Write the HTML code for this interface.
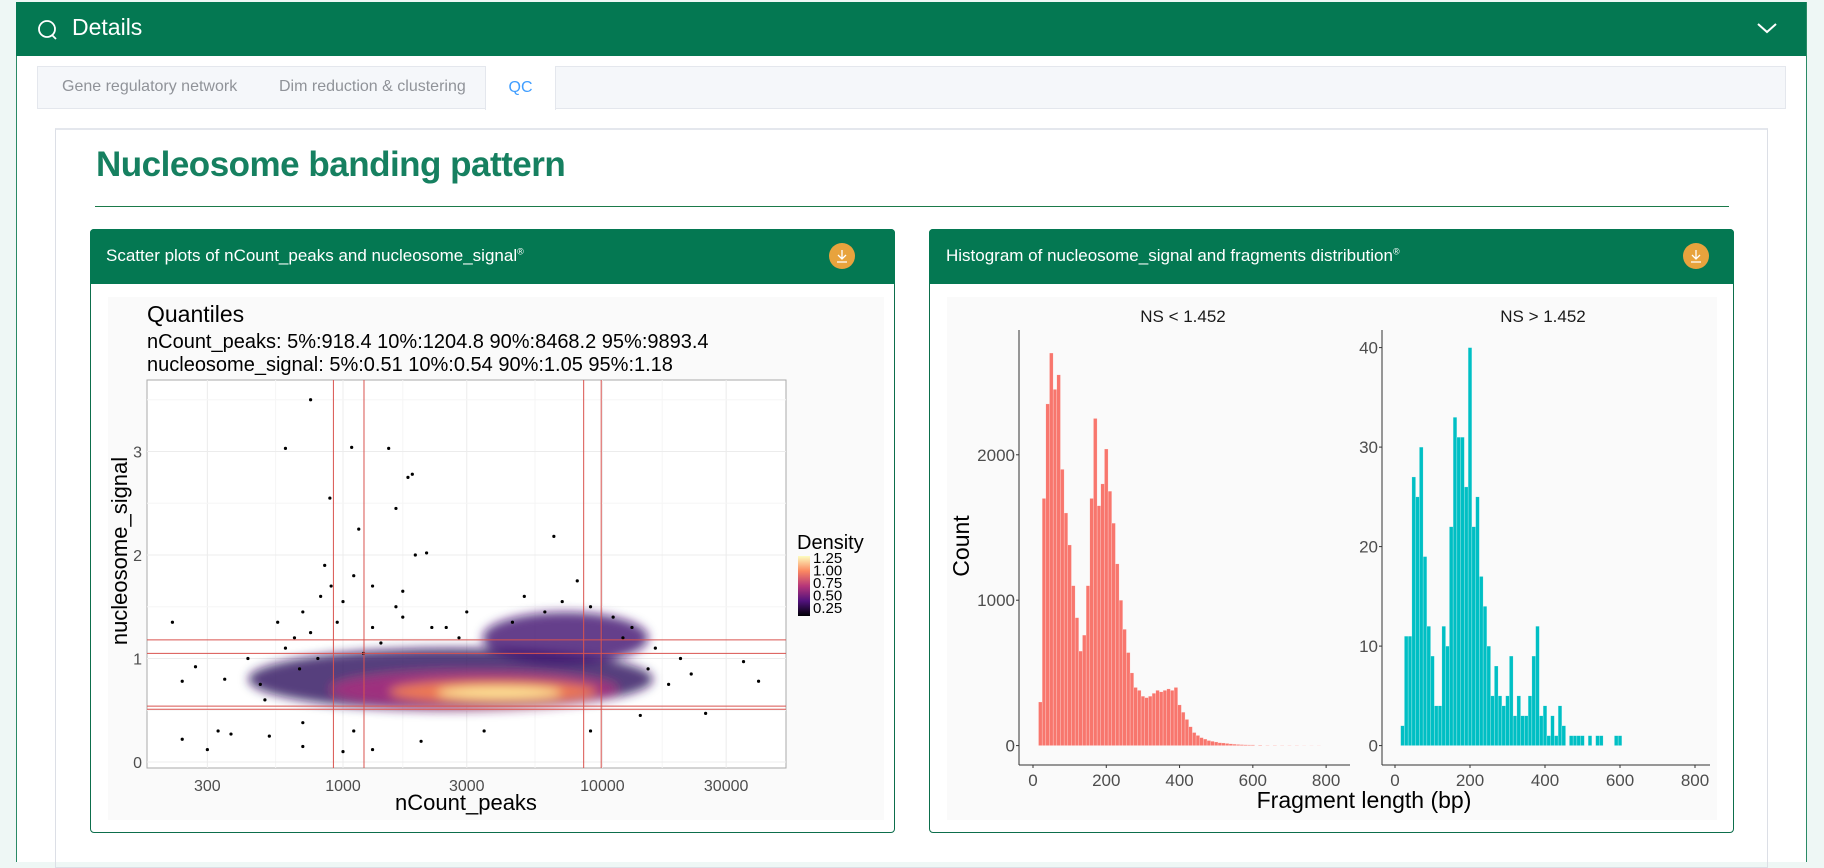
<!DOCTYPE html>
<html><head><meta charset="utf-8">
<style>
body{margin:0;width:1824px;height:854px;overflow:hidden;background:#eef7f5;font-family:"Liberation Sans",sans-serif;position:relative}
.abs{position:absolute}
</style></head>
<body>
<div class="abs" style="left:16px;top:2px;width:1789px;height:860px;background:#fff;border-left:1px solid #2a8a66;border-right:1px solid #2a8a66"></div>
<div class="abs" style="left:16px;top:2px;width:1790px;height:54px;background:#047852"></div>
<svg class="abs" style="left:37px;top:19px" width="22" height="22"><circle cx="10" cy="10" r="8" fill="none" stroke="#fff" stroke-width="1.8"/><line x1="15" y1="16" x2="19" y2="20" stroke="#fff" stroke-width="1.8"/></svg>
<div class="abs" style="left:72px;top:14px;font-size:23px;color:#fff">Details</div>
<svg class="abs" style="left:1756px;top:21px" width="22" height="14"><polyline points="2,3 11,11 20,3" fill="none" stroke="#fff" stroke-width="2"/></svg>
<div class="abs" style="left:37px;top:66px;width:1749px;height:43px;background:#f5f7fa;border:1px solid #e4e7ed;box-sizing:border-box"></div>
<div class="abs" style="left:62px;top:78px;font-size:16px;color:#909399">Gene regulatory network</div>
<div class="abs" style="left:279px;top:78px;font-size:16px;color:#909399">Dim reduction &amp; clustering</div>
<div class="abs" style="left:485px;top:66px;width:71px;height:44px;background:#fff;border-left:1px solid #e4e7ed;border-right:1px solid #e4e7ed;box-sizing:border-box;text-align:center;line-height:44px;font-size:16px;color:#409eff">QC</div>
<div class="abs" style="left:55px;top:128px;width:1713px;height:740px;border:1px solid #dcdfe6;border-top:2px solid #e4e7ed;box-sizing:border-box"></div>
<div class="abs" style="left:96px;top:145px;font-size:35px;font-weight:bold;color:#168060;letter-spacing:-0.5px">Nucleosome banding pattern</div>
<div class="abs" style="left:95px;top:206px;width:1634px;height:1px;background:#1b7a4a"></div>

<div class="abs" style="left:90px;top:229px;width:805px;height:604px;border:1px solid #0d6e4c;border-radius:4px;box-sizing:border-box"></div>
<div class="abs" style="left:108px;top:297px;width:776px;height:523px;background:#fafafa"></div>
<div class="abs" style="left:90px;top:229px;width:805px;height:55px;background:#047852;border-radius:4px 4px 0 0"></div>
<div class="abs" style="left:106px;top:246px;font-size:17px;color:#fff">Scatter plots of nCount_peaks and nucleosome_signal<sup style="font-size:9px">®</sup></div>
<svg class="abs" style="left:829px;top:243px" width="26" height="26"><circle cx="13" cy="13" r="13" fill="#e8a33d"/><path d="M13 7v9M9 12l4 4 4-4M8 19h10" stroke="#fff" stroke-width="1.3" fill="none"/></svg>

<div class="abs" style="left:929px;top:229px;width:805px;height:604px;border:1px solid #0d6e4c;border-radius:4px;box-sizing:border-box"></div>
<div class="abs" style="left:947px;top:297px;width:770px;height:523px;background:#fafafa"></div>
<div class="abs" style="left:929px;top:229px;width:805px;height:55px;background:#047852;border-radius:4px 4px 0 0"></div>
<div class="abs" style="left:946px;top:246px;font-size:17px;color:#fff">Histogram of nucleosome_signal and fragments distribution<sup style="font-size:9px">®</sup></div>
<svg class="abs" style="left:1683px;top:243px" width="26" height="26"><circle cx="13" cy="13" r="13" fill="#e8a33d"/><path d="M13 7v9M9 12l4 4 4-4M8 19h10" stroke="#fff" stroke-width="1.3" fill="none"/></svg>

<svg id="chart" class="abs" style="left:0;top:0" width="1824" height="854" font-family="Liberation Sans, sans-serif">
<defs>
<filter id="blur" x="-50%" y="-50%" width="200%" height="200%"><feGaussianBlur stdDeviation="5"/></filter>
<linearGradient id="dens" x1="0" y1="1" x2="0" y2="0"><stop offset="0" stop-color="#000004"/><stop offset="0.25" stop-color="#51127c"/><stop offset="0.5" stop-color="#b63679"/><stop offset="0.75" stop-color="#fb8861"/><stop offset="1" stop-color="#fcfdbf"/></linearGradient>
<clipPath id="sclip"><rect x="147" y="380" width="639" height="388"/></clipPath>
</defs>
</svg>
<script>
// ---- scatter data ----
const xTicks=[300,1000,3000,10000,30000];
const yTicks=[0,1,2,3];
const quantX=[918.4,1204.8,8468.2,9893.4];
const quantY=[0.51,0.54,1.05,1.18];
const ptX=[750,600,1080,1500,1850,1780,890,1600,1150,6500,1900,2100,1700,850,1100,900,220,270,240,480,560,430,350,330,240,300,370,520,700,1000,1300,2000,25000,35000,40000,20000,18000,700,1300,3000,5000,8000,9000,650,800,1200,1600,2500,12000,15000,700,1100,3500,9000,14000,1000,1300,600,750,950,1400,1700,2200,2800,4500,6000,7000,11000,13000,16000,22000,500,680,820];
const ptY=[3.5,3.03,3.04,3.03,2.78,2.75,2.55,2.45,2.25,2.18,2.0,2.02,1.65,1.9,1.8,1.7,1.35,0.92,0.78,0.75,1.35,1.0,0.8,0.3,0.22,0.12,0.27,0.25,0.15,0.1,0.12,0.2,0.47,0.97,0.78,1.0,0.75,1.45,1.3,1.45,1.6,1.75,1.5,1.2,1.0,1.05,1.5,1.3,1.2,0.9,0.38,0.3,0.3,0.3,0.45,1.55,1.7,1.1,1.25,1.35,1.15,1.4,1.3,1.2,1.35,1.45,1.55,1.4,1.3,1.1,0.85,0.6,0.9,1.6];
// density cloud layers (center in data, extent in decades / signal units)
const cloudX=[2600,7200,3200,3800,4000];
const cloudY=[0.8,1.2,0.7,0.68,0.67];
const cloudRX=[0.78,0.32,0.55,0.4,0.24];
const cloudRY=[0.3,0.25,0.17,0.11,0.06];
const cloudColor=["#2a0a5c","#3d0f6e","#a3307e","#f17d52","#fde89a"];
const legendLabels=["1.25","1.00","0.75","0.50","0.25"];
// ---- histogram data ----
const binL=[20,30,40,50,60,70,80,90,100,110,120,130,140,150,160,170,180,190,200,210,220,230,240,250,260,270,280,290,300,310,320,330,340,350,360,370,380,390,400,410,420,430,440,450,460,470,480,490,500,510,520,530,540,550,560,570,580,590,600,620,640,660,680,700,720,740,760,780];
const cntL=[300,1700,2350,2700,2450,2550,1900,1600,1380,1100,880,650,760,1100,1700,2250,1650,1800,2040,1750,1530,1250,1000,800,640,500,400,380,340,330,340,360,380,370,380,390,380,400,280,230,180,130,90,70,55,45,35,30,25,20,18,15,12,10,8,7,6,5,5,4,3,3,2,2,2,1,1,1];
const binR=[20,30,40,50,60,70,80,90,100,110,120,130,140,150,160,170,180,190,200,210,220,230,240,250,260,270,280,290,300,310,320,330,340,350,360,370,380,390,400,410,420,430,440,450,470,480,490,500,520,540,550,590,600];
const cntR=[2,11,11,27,25,30,19,12,9,4,4,12,10,22,33,31,31,26,40,22,25,17,14,10,5,8,5,4,5,9,3,5,3,3,5,9,12,3,4,1,3,1,4,2,1,1,1,1,1,1,1,1,1];
const yTicksL=[0,1000,2000];
const yTicksR=[0,10,20,30,40];
const xTicksH=[0,200,400,600,800];

const NS="http://www.w3.org/2000/svg";
const svg=document.getElementById('chart');
function mk(tag,attrs,parent){const e=document.createElementNS(NS,tag);for(const k in attrs)e.setAttribute(k,attrs[k]);(parent||svg).appendChild(e);return e;}
function txt(s,attrs,parent){const e=mk('text',attrs,parent);e.textContent=s;return e;}

const sx=v=>343+(Math.log10(v)-3)*259.4;
const sy=v=>762-v*103.5;
const scat=mk('g',{});


txt('Quantiles',{x:147,y:322,'font-size':23,fill:'#000'},scat);
txt('nCount_peaks: 5%:918.4 10%:1204.8 90%:8468.2 95%:9893.4',{x:147,y:348,'font-size':20,fill:'#000'},scat);
txt('nucleosome_signal: 5%:0.51 10%:0.54 90%:1.05 95%:1.18',{x:147,y:371,'font-size':20,fill:'#000'},scat);
mk('rect',{x:147,y:380,width:639,height:388,fill:'#fff',stroke:'#aaa'},scat);
const grid=mk('g',{'clip-path':'url(#sclip)'},scat);
[300,1000,3000,10000,30000].forEach(v=>{const l=mk('line',{x1:sx(v),x2:sx(v),y1:380,y2:768,stroke:'#ececec'},grid);});
[550,1700,5500,17000].forEach(v=>mk('line',{x1:sx(v),x2:sx(v),y1:380,y2:768,stroke:'#f5f5f5'},grid));
[0,0.5,1,1.5,2,2.5,3,3.5].forEach(v=>mk('line',{x1:147,x2:786,y1:sy(v),y2:sy(v),stroke:v%1?'#f5f5f5':'#ececec'},grid));
const cl=mk('g',{filter:'url(#blur)'},grid);
for(let i=0;i<cloudX.length;i++){
  const e=mk('ellipse',{cx:sx(cloudX[i]),cy:sy(cloudY[i]),rx:cloudRX[i]*259.4,ry:cloudRY[i]*103.5,fill:cloudColor[i],opacity:i<2?0.8:0.95},cl);
  
  
}
for(let i=0;i<ptX.length;i++){
  const c=mk('circle',{cx:sx(ptX[i]),cy:sy(ptY[i]),r:1.6,fill:'#000'},grid);
  
  
}
quantX.forEach(v=>{const l=mk('line',{x1:sx(v),x2:sx(v),y1:380,y2:768,stroke:'#d9534f','stroke-width':1},grid);});
quantY.forEach(v=>{const l=mk('line',{x1:147,x2:786,y1:sy(v),y2:sy(v),stroke:'#d9534f','stroke-width':1},grid);});
xTicks.forEach(v=>{const t=txt(String(v),{x:sx(v),y:791,'font-size':16,fill:'#4d4d4d','text-anchor':'middle'},scat);});
yTicks.forEach(v=>{const t=txt(String(v),{x:142,y:sy(v)+6,'font-size':16,fill:'#4d4d4d','text-anchor':'end'},scat);});
txt('nCount_peaks',{x:466,y:810,'font-size':22,fill:'#000','text-anchor':'middle'},scat);
txt('nucleosome_signal',{x:0,y:0,'font-size':22,fill:'#000','text-anchor':'middle',transform:'translate(127,551) rotate(-90)'},scat);
txt('Density',{x:797,y:549,'font-size':20,fill:'#000'},scat);
mk('rect',{x:798,y:556,width:12,height:60,fill:'url(#dens)'},scat);
legendLabels.forEach((s,i)=>{const t=txt(s,{x:813,y:563+i*12.5,'font-size':15,fill:'#000'},scat);});

function hist(bins,cnts,x0,xs,ys,axX,axEnd,color,ticksY,name){
  const g=mk('g',{});
  
  
  const bx=v=>x0+v*xs, by=v=>745.6-v*ys;
  for(let i=0;i<bins.length;i++){
    const w=(i<bins.length-1?Math.min(bins[i+1]-bins[i],10):10)*xs;
    const r=mk('rect',{x:bx(bins[i]-5),y:by(cnts[i]),width:Math.max(w,1),height:cnts[i]*ys,fill:color,stroke:'#ffffff','stroke-width':0.4,'stroke-opacity':0.6},g);
    
    
  }
  mk('line',{x1:axX,x2:axX,y1:330,y2:765,stroke:'#333','stroke-width':1},g);
  mk('line',{x1:axX,x2:axEnd,y1:765,y2:765,stroke:'#333','stroke-width':1},g);
  ticksY.forEach(v=>{mk('line',{x1:axX-3,x2:axX,y1:by(v),y2:by(v),stroke:'#333'},g);const t=txt(String(v),{x:axX-4,y:by(v)+6,'font-size':17,fill:'#4d4d4d','text-anchor':'end'},g);});
  xTicksH.forEach(v=>{mk('line',{x1:bx(v),x2:bx(v),y1:765,y2:768,stroke:'#333'},g);const t=txt(String(v),{x:bx(v),y:786,'font-size':17,fill:'#4d4d4d','text-anchor':'middle'},g);});
}
hist(binL,cntL,1033,0.3664,0.1454,1019,1350,'#f8766d',yTicksL,'hist-ns-low');
hist(binR,cntR,1395,0.375,9.95,1382,1710,'#00bfc4',yTicksR,'hist-ns-high');
txt('NS < 1.452',{x:1183,y:322,'font-size':17,fill:'#1a1a1a','text-anchor':'middle'});
txt('NS > 1.452',{x:1543,y:322,'font-size':17,fill:'#1a1a1a','text-anchor':'middle'});
txt('Count',{x:0,y:0,'font-size':23,fill:'#000','text-anchor':'middle',transform:'translate(969,546) rotate(-90)'});
txt('Fragment length (bp)',{x:1364,y:808,'font-size':23,fill:'#000','text-anchor':'middle'});
</script>
</body></html>
